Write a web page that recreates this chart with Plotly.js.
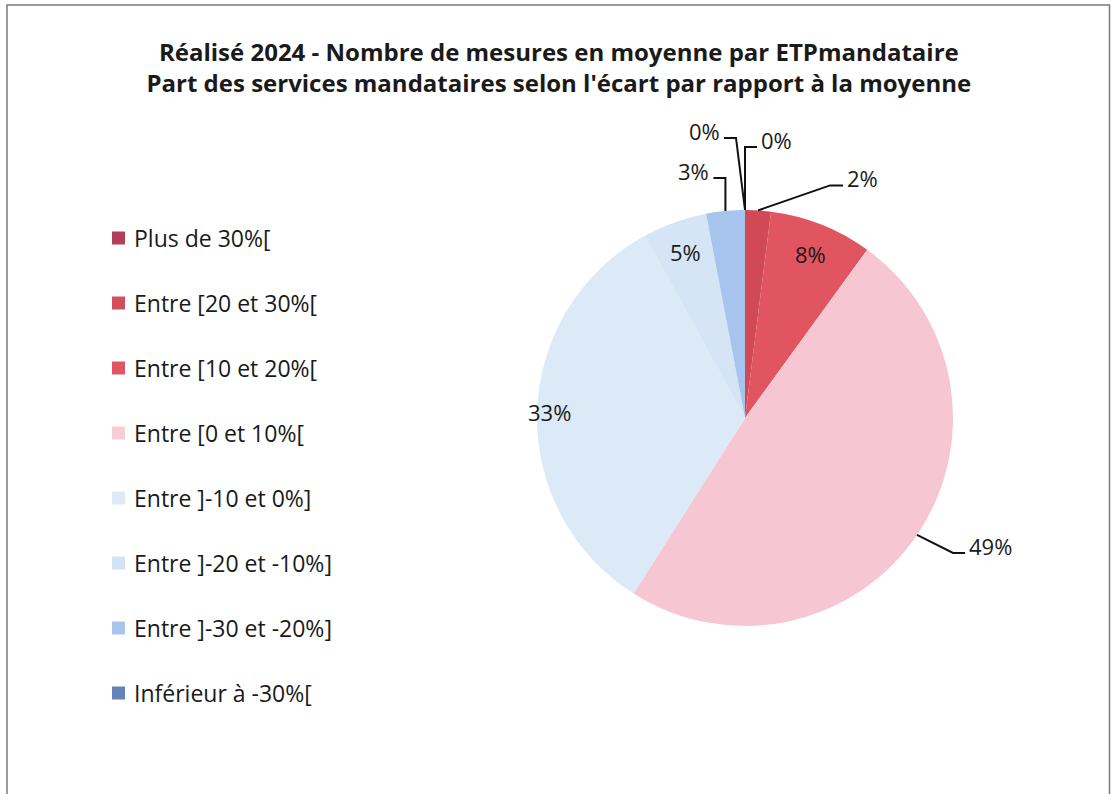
<!DOCTYPE html>
<html>
<head>
<meta charset="utf-8">
<script src="https://cdn.plot.ly/plotly-3.0.1.min.js"></script>
<style>
  html, body { margin: 0; padding: 0; background: #ffffff; }
  #chart { width: 1111px; height: 794px; }
</style>
</head>
<body>
<div id="chart"></div>
<script>
// ---------- DATA ----------
const categories = [
  "Plus de 30%[",
  "Entre [20 et 30%[",
  "Entre [10 et 20%[",
  "Entre [0 et 10%[",
  "Entre ]-10 et 0%]",
  "Entre ]-20 et -10%]",
  "Entre ]-30 et -20%]",
  "Inférieur à -30%["
];
const values = [0, 2, 8, 49, 33, 5, 3, 0];
const titleLines = [
  "Réalisé 2024 - Nombre de mesures en moyenne par ETPmandataire",
  "Part des services mandataires selon l'écart par rapport à la moyenne"
];

// ---------- STYLE ----------
const W = 1111, H = 794;
const FONT = "'Open Sans', 'Noto Sans', sans-serif";
const sliceColors = ["#b23e55", "#d24956", "#e0555f", "#f7c6d3", "#dce9f6", "#d5e5f6", "#a7c4ef", "#6783b7"];
const legendColors = ["#b0405a", "#d2505e", "#e05563", "#f8cdd8", "#dde9f6", "#d2e3f5", "#a8c5f0", "#6583b8"];
const pieCx = 745, pieCy = 418, pieR = 208;
// label placement per slice (layout only)
const labelStyle = [
  {mode: "out", ex: 0,   ey: -63, hx: 12},
  {mode: "out", ex: 72,  ey: -25, hx: 13},
  {mode: "in",  r: 0.85},
  {mode: "out", ex: 36,  ey: 18,  hx: 12},
  {mode: "in",  r: 0.94},
  {mode: "in",  r: 0.85},
  {mode: "out", ex: 0,   ey: -33, hx: -12},
  {mode: "out", ex: -9,  ey: -72, hx: -12}
];
const legendX = 112, legendBox = 13, legendTextX = 132, legendY0 = 238, legendStep = 65;

const px2x = p => p / W;
const py2y = p => 1 - p / H;

const total = values.reduce((a, b) => a + b, 0);
const shapes = [];
const annotations = [];

// border
shapes.push({
  type: "path", xref: "paper", yref: "paper",
  path: `M ${px2x(7)} ${py2y(800)} L ${px2x(7)} ${py2y(5)} L ${px2x(1109.5)} ${py2y(5)} L ${px2x(1109.5)} ${py2y(800)}`,
  line: {color: "#7a7a7a", width: 1.5}
});

// data labels
let cum = 0;
values.forEach((v, i) => {
  const a0 = cum / total * 360;
  cum += v;
  const a1 = cum / total * 360;
  const mid = (a0 + a1) / 2 * Math.PI / 180;
  const st = labelStyle[i];
  const txt = v + "%";
  if (st.mode === "in") {
    const x = pieCx + pieR * st.r * Math.sin(mid);
    const y = pieCy - pieR * st.r * Math.cos(mid);
    annotations.push({
      xref: "paper", yref: "paper", x: px2x(x), y: py2y(y),
      text: txt, showarrow: false, xanchor: "center", yanchor: "middle",
      font: {family: FONT, size: 22, color: "#1a1a1a"}
    });
  } else {
    const sx = pieCx + pieR * Math.sin(mid);
    const sy = pieCy - pieR * Math.cos(mid);
    const exx = sx + st.ex, eyy = sy + st.ey;
    const hx = exx + st.hx;
    shapes.push({
      type: "path", xref: "paper", yref: "paper",
      path: `M ${px2x(sx)} ${py2y(sy)} L ${px2x(exx)} ${py2y(eyy)} L ${px2x(hx)} ${py2y(eyy)}`,
      line: {color: "#111111", width: 2}
    });
    const right = st.hx > 0;
    annotations.push({
      xref: "paper", yref: "paper", x: px2x(hx + (right ? 2 : -2)), y: py2y(eyy - 7),
      text: txt, showarrow: false, xanchor: right ? "left" : "right", yanchor: "middle",
      font: {family: FONT, size: 22, color: "#1a1a1a"}
    });
  }
});

// legend (manual, evenly spaced)
categories.forEach((c, i) => {
  const cy = legendY0 + i * legendStep;
  shapes.push({
    type: "rect", xref: "paper", yref: "paper",
    x0: px2x(legendX), x1: px2x(legendX + legendBox),
    y0: py2y(cy - legendBox / 2), y1: py2y(cy + legendBox / 2),
    fillcolor: legendColors[i], line: {width: 0}
  });
  annotations.push({
    xref: "paper", yref: "paper", x: px2x(legendTextX), y: py2y(cy),
    text: c, showarrow: false, xanchor: "left", yanchor: "middle",
    font: {family: FONT, size: 23, color: "#1a1a1a"}
  });
});

const trace = {
  type: "pie",
  labels: categories,
  values: values,
  sort: false,
  direction: "clockwise",
  rotation: 0,
  textinfo: "none",
  hoverinfo: "label+percent",
  marker: {colors: sliceColors, line: {width: 0}},
  domain: {
    x: [px2x(pieCx - pieR), px2x(pieCx + pieR)],
    y: [py2y(pieCy + pieR), py2y(pieCy - pieR)]
  },
  showlegend: false
};

const layout = {
  width: W, height: H,
  margin: {l: 0, r: 0, t: 0, b: 0},
  paper_bgcolor: "#ffffff",
  title: {
    text: "<b>" + titleLines.join("<br>") + "</b>",
    x: 0.503, xanchor: "center",
    y: 1 - 61 / H, yanchor: "middle", yref: "container",
    font: {family: FONT, size: 24, color: "#1a1a1a"}
  },
  shapes: shapes,
  annotations: annotations,
  showlegend: false
};

Plotly.newPlot("chart", [trace], layout, {displayModeBar: false, staticPlot: true});
</script>
</body>
</html>
